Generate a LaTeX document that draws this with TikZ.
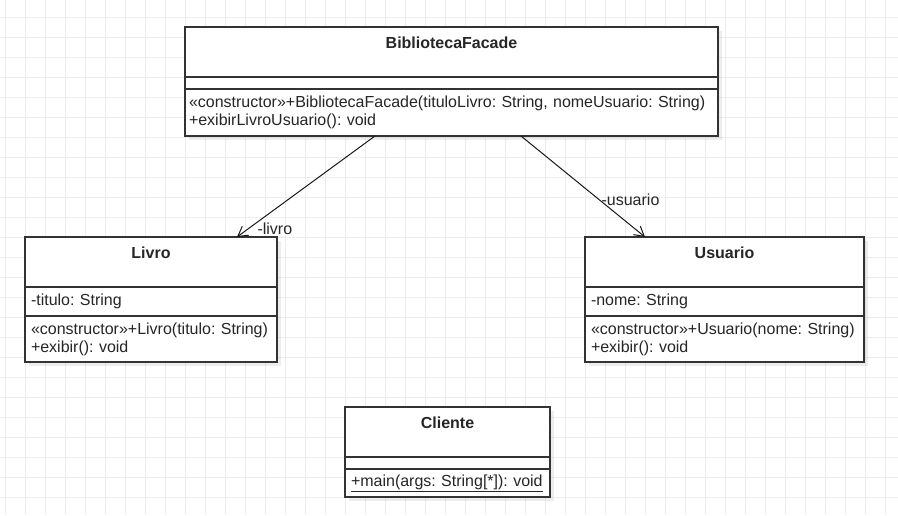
\documentclass[tikz,border=0pt]{standalone}
\usepackage{fontspec}
\setmainfont{Liberation Sans}
\usepackage{tikz}
\usetikzlibrary{positioning,shadows,arrows.meta}
\frenchspacing
\newcommand{\umlfont}{\fontsize{16}{18}\selectfont}
\tikzset {
    style Head/.style={
        fill=white,
        draw=black!80,
        line width=1.2pt,
        rectangle, % Set the shape as a rectangle
        inner xsep=0pt,
        inner ysep=0pt,
        outer sep=0pt,
        minimum height=50pt,
        align=center,
        font=\umlfont\bfseries,
        drop shadow={shadow xshift=4pt, shadow yshift=-4pt, fill=black, opacity=0.07},
    },
    style Part/.style={
        fill=white,
        draw=black!80,
        line width=1.2pt,
        rectangle, % Set the shape as a rectangle
        inner xsep=6pt,
        inner ysep=0pt,
        outer sep=0pt,
        align=left,
        drop shadow={shadow xshift=4pt, shadow yshift=-4pt, fill=black, opacity=0.07},
    },
    style Link/.style={
        draw=black!90,
        line width=1pt,
        -{Straight Barb[angle=60:11pt]},
    },
    style Grid/.style={
        draw=black!7,
        line width=1pt,
    },
}

\begin{document}
\begin{tikzpicture}
        [x=1pt, y=-1pt, every node/.style={text=black!85, font=\umlfont}]

        \useasboundingbox (0,0) rectangle (898,515);
        \fill[white] (0,0) rectangle (898,515);
        \foreach \gx in {5,25,...,885} { \draw[style Grid] (\gx,0) -- (\gx,515); }
        \foreach \gy in {17,37,...,497} { \draw[style Grid] (0,\gy) -- (898,\gy); }

        % facade
        \node[style Head, text width=533pt, anchor=north west] (bibHead) at (185,27) {BibliotecaFacade\\\mbox{}};
        \node[style Part, inner xsep=4pt, text width=525pt, minimum height=12pt, below=0pt of bibHead] (bibAttr) {};
        \node[style Part, inner xsep=4pt, text width=525pt, minimum height=47pt, below=0pt of bibAttr] (bibMeth)
            {«constructor»+BibliotecaFacade(tituloLivro: String, nomeUsuario: String)\\+exibirLivroUsuario(): void};

        % livro
        \node[style Head, text width=252pt, anchor=north west] (livroHead) at (25,237) {Livro\\\mbox{}};
        \node[style Part, text width=240pt, minimum height=29pt, below=0pt of livroHead] (livroAttr) {-titulo: String};
        \node[style Part, text width=240pt, minimum height=46pt, below=0pt of livroAttr] (livroMeth)
            {«constructor»+Livro(titulo: String)\\+exibir(): void};

        % usuario
        \node[style Head, text width=279pt, anchor=north west] (usuHead) at (585,237) {Usuario\\\mbox{}};
        \node[style Part, text width=267pt, minimum height=29pt, below=0pt of usuHead] (usuAttr) {-nome: String};
        \node[style Part, text width=267pt, minimum height=46pt, below=0pt of usuAttr] (usuMeth)
            {«constructor»+Usuario(nome: String)\\+exibir(): void};

        % cliente
        \node[style Head, text width=205pt, anchor=north west] (cliHead) at (345,407) {Cliente\\\mbox{}};
        \node[style Part, text width=193pt, minimum height=12pt, below=0pt of cliHead] (cliAttr) {};
        \node[style Part, text width=193pt, minimum height=28pt, below=0pt of cliAttr] (cliMeth)
            {\underline{+main(args: String[*]): void}};

        \draw[style Link] ([xshift=190pt]bibMeth.south west) -- ([xshift=212pt]livroHead.north west)
            node[at end, anchor=west, inner sep=1pt, xshift=19pt, yshift=8pt] {-livro};
        \draw[style Link] ([xshift=336pt]bibMeth.south west) -- ([xshift=60pt]usuHead.north west)
            node[pos=0.63, anchor=west, inner sep=1pt, xshift=1pt] {-usuario};
    \end{tikzpicture}
\end{document}
